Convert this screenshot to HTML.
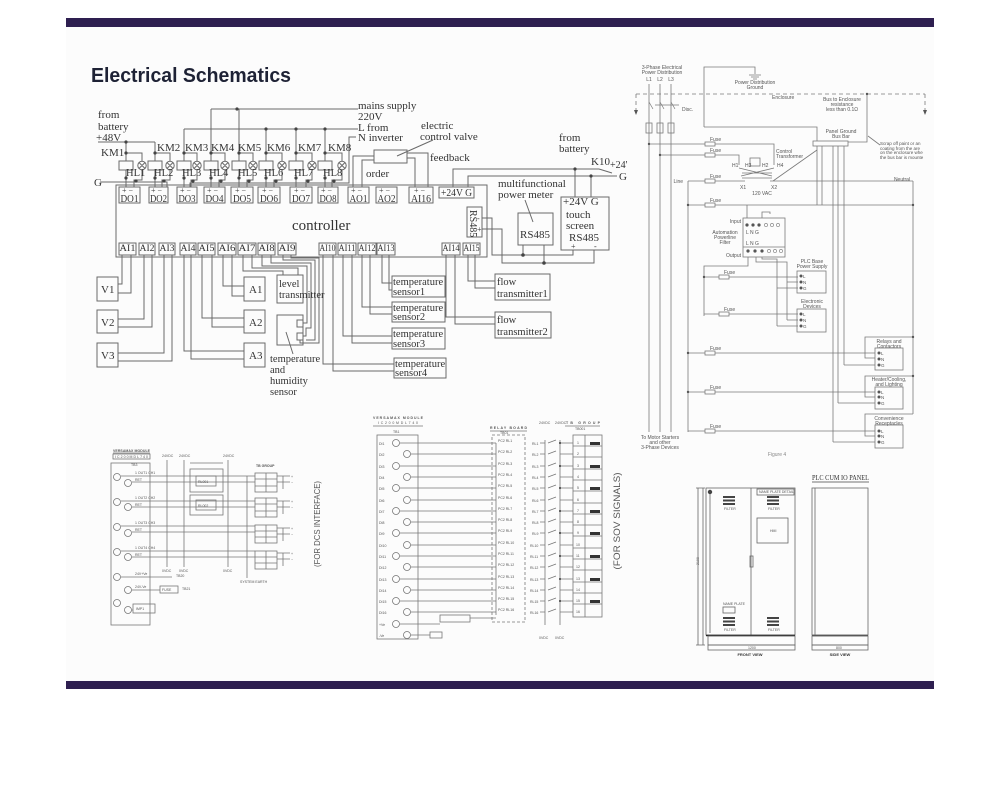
<!DOCTYPE html>
<html><head><meta charset="utf-8">
<style>
html,body{margin:0;padding:0;background:#fff;}
svg{display:block}
.s{font-family:"Liberation Serif",serif;fill:#333;}
.a{font-family:"Liberation Sans",sans-serif;fill:#555;}
</style></head><body>
<svg width="1000" height="796" viewBox="0 0 1000 796" xmlns="http://www.w3.org/2000/svg">
<rect x="66" y="27" width="868" height="654" fill="#fcfcfc"/>
<rect x="66" y="18" width="868" height="9" fill="#2e1f50"/>
<rect x="66" y="681" width="868" height="8" fill="#2e1f50"/>
<text x="91" y="82" font-family="Liberation Sans, sans-serif" font-weight="bold" font-size="20" fill="#1e2235" textLength="200" lengthAdjust="spacingAndGlyphs">Electrical Schematics</text>

<!-- ================= TOP LEFT SCHEMATIC ================= -->
<g fill="none" stroke="#6a6a6a" stroke-width="1">
<path d="M211 109H358M211 109V161M239 109V161"/>
<path d="M184 129H358M184 129V161M266 129V161M296 129V161M325 129V161"/>
<path d="M356 137H349V183H190V187"/>
<path d="M98 142H155M126 142V161M155 142V161"/>
<path d="M100 182H167V187"/>
<path d="M126 153H142V161M155 153H170V161M184 153H197V161M211 153H225V161M239 153H253V161M266 153H282V161M296 153H312V161M325 153H342V161"/>
<rect x="119" y="161" width="14" height="9"/><rect x="148" y="161" width="14" height="9"/><rect x="177" y="161" width="14" height="9"/><rect x="204" y="161" width="14" height="9"/><rect x="232" y="161" width="14" height="9"/><rect x="259" y="161" width="14" height="9"/><rect x="289" y="161" width="14" height="9"/><rect x="318" y="161" width="14" height="9"/>
<g>
<circle cx="142" cy="165.5" r="4.2"/><circle cx="170" cy="165.5" r="4.2"/><circle cx="197" cy="165.5" r="4.2"/><circle cx="225" cy="165.5" r="4.2"/><circle cx="253" cy="165.5" r="4.2"/><circle cx="282" cy="165.5" r="4.2"/><circle cx="312" cy="165.5" r="4.2"/><circle cx="342" cy="165.5" r="4.2"/>
<path d="M139 162.5l6 6M145 162.5l-6 6M167 162.5l6 6M173 162.5l-6 6M194 162.5l6 6M200 162.5l-6 6M222 162.5l6 6M228 162.5l-6 6M250 162.5l6 6M256 162.5l-6 6M279 162.5l6 6M285 162.5l-6 6M309 162.5l6 6M315 162.5l-6 6M339 162.5l6 6M345 162.5l-6 6"/>
</g>
<path d="M126 170V187M155 170V187M184 170V187M211 170V187M239 170V187M266 170V187M296 170V187M325 170V187"/>
<path d="M142 170V180H134V187M170 170V180H162V187M197 170V180H191V187M225 170V180H219V187M253 170V180H247V187M282 170V180H274V187M312 170V180H306V187M342 170V180H332V187"/>
<rect x="116" y="185" width="371" height="72"/>
<rect x="119" y="187" width="21" height="16"/><rect x="149" y="187" width="19" height="16"/><rect x="177" y="187" width="20" height="16"/><rect x="204" y="187" width="21" height="16"/><rect x="231" y="187" width="22" height="16"/><rect x="258" y="187" width="22" height="16"/><rect x="290" y="187" width="22" height="16"/><rect x="318" y="187" width="20" height="16"/><rect x="348" y="187" width="21" height="16"/><rect x="376" y="187" width="21" height="16"/><rect x="409" y="187" width="24" height="16"/>
<rect x="439" y="187" width="35" height="11"/>
<rect x="374" y="150" width="33" height="13"/>
<path d="M353 187V156H374M362 187V160H374M407 153H428V187M407 158H415V187M397 156L433 140"/>
<path d="M453 187V169H599M468 187V176H600M599 169L612 173M600 176H617M575 169V197M591 176V197"/>
<rect x="467" y="207" width="15" height="30"/>
<rect x="518" y="213" width="35" height="32"/>
<rect x="561" y="197" width="48" height="53"/>
<path d="M482 218H492V255H573V250M482 229H502V263H594V250M523 245V255M544 245V263M525 200L533 222"/>
<rect x="119" y="243" width="17" height="12"/><rect x="139" y="243" width="16" height="12"/><rect x="159" y="243" width="16" height="12"/><rect x="180" y="243" width="16" height="12"/><rect x="198" y="243" width="17" height="12"/><rect x="218" y="243" width="18" height="12"/><rect x="238" y="243" width="18" height="12"/><rect x="258" y="243" width="17" height="12"/><rect x="278" y="243" width="18" height="12"/><rect x="319" y="243" width="17" height="12"/><rect x="338" y="243" width="18" height="12"/><rect x="358" y="243" width="18" height="12"/><rect x="377" y="243" width="18" height="12"/><rect x="442" y="243" width="18" height="12"/><rect x="463" y="243" width="17" height="12"/>
<rect x="97" y="277" width="21" height="24"/><rect x="97" y="310" width="21" height="23"/><rect x="97" y="343" width="21" height="24"/>
<rect x="244" y="277" width="21" height="24"/><rect x="244" y="310" width="21" height="23"/><rect x="244" y="343" width="21" height="24"/>
<rect x="277" y="275" width="26" height="28"/><rect x="277" y="315" width="26" height="30"/>
<rect x="297" y="320" width="6" height="7"/><rect x="297" y="333" width="6" height="7"/>
<rect x="392" y="276" width="53" height="21"/><rect x="392" y="302" width="53" height="20"/><rect x="392" y="328" width="53" height="21"/><rect x="394" y="358" width="52" height="20"/>
<rect x="495" y="274" width="55" height="26"/><rect x="495" y="312" width="56" height="26"/>
<path d="M122 255V284H118M131 255V293H118M144 255V319H118M152 255V327H118M164 255V353H118M172 255V361H118"/>
<path d="M184 255V351H244M191 255V359H244M202 255V318H244M212 255V327H244M223 255V286H244M232 255V296H244"/>
<path d="M243 255V271H283V275M252 255V268H298V275M262 255V266H307V323H303M271 255V263H311V328H306V336H303M283 255V260H315V340H306M291 255V258H319V343H300V340M286 332L293 354"/>
<path d="M323 255V364H394M333 255V371H394M343 255V336H392M352 255V343H392M362 255V307H392M370 255V314H392M382 255V283H392M389 255V290H392"/>
<path d="M446 255V317H495M455 255V324H495M468 255V281H495M475 255V288H495"/>
</g>
<g fill="#444">
<circle cx="237" cy="109" r="1.6"/><circle cx="266" cy="129" r="1.6"/><circle cx="296" cy="129" r="1.6"/><circle cx="325" cy="129" r="1.6"/><circle cx="126" cy="142" r="1.6"/>
<circle cx="126" cy="153" r="1.6"/><circle cx="155" cy="153" r="1.6"/><circle cx="184" cy="153" r="1.6"/><circle cx="211" cy="153" r="1.6"/><circle cx="239" cy="153" r="1.6"/><circle cx="266" cy="153" r="1.6"/><circle cx="296" cy="153" r="1.6"/><circle cx="325" cy="153" r="1.6"/>
<circle cx="126" cy="178" r="1.6"/><circle cx="155" cy="178" r="1.6"/><circle cx="184" cy="178" r="1.6"/><circle cx="211" cy="178" r="1.6"/><circle cx="239" cy="178" r="1.6"/><circle cx="266" cy="178" r="1.6"/><circle cx="296" cy="178" r="1.6"/><circle cx="325" cy="178" r="1.6"/>
<circle cx="136" cy="181" r="1.6"/><circle cx="164" cy="181" r="1.6"/><circle cx="193" cy="181" r="1.6"/><circle cx="221" cy="181" r="1.6"/><circle cx="249" cy="181" r="1.6"/><circle cx="276" cy="181" r="1.6"/><circle cx="308" cy="181" r="1.6"/><circle cx="334" cy="181" r="1.6"/>
<circle cx="575" cy="169" r="1.6"/><circle cx="591" cy="176" r="1.6"/><circle cx="523" cy="255" r="1.8"/><circle cx="544" cy="263" r="1.8"/>
</g>
<g class="s" font-size="11">
<text x="98" y="118">from</text><text x="98" y="130">battery</text><text x="96" y="141">+48V</text>
<text x="101" y="156">KM1</text><text x="157" y="151">KM2</text><text x="185" y="151">KM3</text><text x="211" y="151">KM4</text><text x="238" y="151">KM5</text><text x="267" y="151">KM6</text><text x="298" y="151">KM7</text><text x="328" y="151">KM8</text>
<text x="94" y="186">G</text>
<text x="358" y="109">mains supply</text><text x="358" y="120">220V</text><text x="358" y="131">L  from</text><text x="358" y="141">N inverter</text>
<text x="421" y="129">electric</text><text x="420" y="140">control valve</text>
<text x="430" y="161">feedback</text><text x="366" y="177">order</text>
<text x="559" y="141">from</text><text x="559" y="152">battery</text>
<text x="591" y="165">K10</text><text x="610" y="168" font-size="10">+24'</text><text x="619" y="180">G</text>
<text x="498" y="187">multifunctional</text><text x="498" y="198">power meter</text>
<text x="563" y="205">+24V G</text><text x="566" y="218">touch</text><text x="566" y="229">screen</text><text x="569" y="241">RS485</text>
<text x="520" y="238">RS485</text>
<text x="441" y="196" textLength="31" lengthAdjust="spacingAndGlyphs">+24V G</text>
<text x="292" y="230" font-size="15">controller</text>
<text x="101" y="293">V1</text><text x="101" y="326">V2</text><text x="101" y="359">V3</text>
<text x="249" y="293">A1</text><text x="249" y="326">A2</text><text x="249" y="359">A3</text>
<text x="279" y="287" font-size="10.5">level</text><text x="279" y="298" font-size="10.5">transmitter</text>
<text x="270" y="362" font-size="10.5">temperature</text><text x="270" y="373" font-size="10.5">and</text><text x="270" y="384" font-size="10.5">humidity</text><text x="270" y="395" font-size="10.5">sensor</text>
<text x="393" y="285" font-size="10.5">temperature</text><text x="393" y="295" font-size="10.5">sensor1</text>
<text x="393" y="311" font-size="10.5">temperature</text><text x="393" y="320" font-size="10.5">sensor2</text>
<text x="393" y="337" font-size="10.5">temperature</text><text x="393" y="347" font-size="10.5">sensor3</text>
<text x="395" y="367" font-size="10.5">temperature</text><text x="395" y="376" font-size="10.5">sensor4</text>
<text x="497" y="285" font-size="10.5">flow</text><text x="497" y="297" font-size="10.5">transmitter1</text>
<text x="497" y="323" font-size="10.5">flow</text><text x="497" y="335" font-size="10.5">transmitter2</text>
<text x="126" y="176" font-size="10.5">HL1</text><text x="154" y="176" font-size="10.5">HL2</text><text x="182" y="176" font-size="10.5">HL3</text><text x="209" y="176" font-size="10.5">HL4</text><text x="238" y="176" font-size="10.5">HL5</text><text x="264" y="176" font-size="10.5">HL6</text><text x="294" y="176" font-size="10.5">HL7</text><text x="323" y="176" font-size="10.5">HL8</text>
<g font-size="10.5">
<text x="120.5" y="202" textLength="18" lengthAdjust="spacingAndGlyphs">DO1</text><text x="150" y="202" textLength="17" lengthAdjust="spacingAndGlyphs">DO2</text><text x="178.5" y="202" textLength="17" lengthAdjust="spacingAndGlyphs">DO3</text><text x="205.5" y="202" textLength="18" lengthAdjust="spacingAndGlyphs">DO4</text><text x="233" y="202" textLength="18" lengthAdjust="spacingAndGlyphs">DO5</text><text x="260" y="202" textLength="18" lengthAdjust="spacingAndGlyphs">DO6</text><text x="292" y="202" textLength="18" lengthAdjust="spacingAndGlyphs">DO7</text><text x="319.5" y="202" textLength="17" lengthAdjust="spacingAndGlyphs">DO8</text><text x="349.5" y="202" textLength="18" lengthAdjust="spacingAndGlyphs">AO1</text><text x="377.5" y="202" textLength="18" lengthAdjust="spacingAndGlyphs">AO2</text><text x="411" y="202" textLength="20" lengthAdjust="spacingAndGlyphs">AI16</text>
</g>
<g font-size="8"><text x="122" y="193">+ −</text><text x="151" y="193">+ −</text><text x="180" y="193">+ −</text><text x="207" y="193">+ −</text><text x="235" y="193">+ −</text><text x="262" y="193">+ −</text><text x="294" y="193">+ −</text><text x="321" y="193">+ −</text><text x="351" y="193">+ −</text><text x="379" y="193">+ −</text><text x="414" y="193">+ −</text>
<text x="477" y="221">-</text><text x="477" y="232">+</text><text x="571" y="249">+</text><text x="594" y="249">-</text></g>
<g font-size="9.5"><text x="119.5" y="251" textLength="16" lengthAdjust="spacingAndGlyphs">AI1</text><text x="139.5" y="251" textLength="15" lengthAdjust="spacingAndGlyphs">AI2</text><text x="159.5" y="251" textLength="15" lengthAdjust="spacingAndGlyphs">AI3</text><text x="180.5" y="251" textLength="15" lengthAdjust="spacingAndGlyphs">AI4</text><text x="198.5" y="251" textLength="16" lengthAdjust="spacingAndGlyphs">AI5</text><text x="218.5" y="251" textLength="17" lengthAdjust="spacingAndGlyphs">AI6</text><text x="238.5" y="251" textLength="17" lengthAdjust="spacingAndGlyphs">AI7</text><text x="258.5" y="251" textLength="16" lengthAdjust="spacingAndGlyphs">AI8</text><text x="278.5" y="251" textLength="17" lengthAdjust="spacingAndGlyphs">AI9</text><text x="319.5" y="251" textLength="16" lengthAdjust="spacingAndGlyphs">AI10</text><text x="338.5" y="251" textLength="17" lengthAdjust="spacingAndGlyphs">AI11</text><text x="358.5" y="251" textLength="17" lengthAdjust="spacingAndGlyphs">AI12</text><text x="377.5" y="251" textLength="17" lengthAdjust="spacingAndGlyphs">AI13</text><text x="442.5" y="251" textLength="17" lengthAdjust="spacingAndGlyphs">AI14</text><text x="463.5" y="251" textLength="16" lengthAdjust="spacingAndGlyphs">AI15</text></g>
<text x="470" y="210" font-size="10" transform="rotate(90 470 210)">RS485</text>
</g>

<!-- ================= TOP RIGHT DIAGRAM ================= -->
<g fill="none" stroke="#7a7a7a" stroke-width="0.8">
<path d="M649 84V432M660 84V432M671 84V432"/>
<path d="M636 94H925M636 94V110M925 94V110" stroke-dasharray="4 3"/>
<path d="M649 102L653 109M660 102L664 109M671 102L675 109M655 105H679" stroke-width="0.7"/>
<rect x="646" y="123" width="6" height="10"/><rect x="657" y="123" width="6" height="10"/><rect x="668" y="123" width="6" height="10"/>
<path d="M704 127V67H755V74M749 75H761M751 77H759M753 79H757"/>
<path d="M704 127H817V141M867 94V142H848"/>
<rect x="813" y="141" width="35" height="5"/>
<path d="M880 145L868 136"/>
<path d="M649 144H705M715 144H774V165M660 155H705M715 155H739V165"/>
<rect x="705" y="142" width="10" height="4"/><rect x="705" y="153" width="10" height="4"/>
<rect x="750" y="158" width="10" height="8"/>
<path d="M739 168L772 176M774 168L741 176M742 173H772M742 178H772" />
<path d="M688 181H705M715 181H745M770 181H913M773 181L817 150M817 146V205M822 146V205M833 146V442M838 146V403M844 146V365"/>
<rect x="705" y="179" width="10" height="4"/>
<path d="M688 181V432M913 181V414"/>
<path d="M688 205H705M715 205H913M747 205V218"/>
<rect x="705" y="203" width="10" height="4"/>
<rect x="743" y="218" width="42" height="39"/>
<path d="M743 247H785M762 218V212H770V214M748 257V266H704V316M756 257V262H787V320M762 257V259H777V326"/>
<path d="M704 277H719M729 277H798M704 314H719M729 314H798M787 282H798M787 320H798M777 288H798M777 326H798"/>
<rect x="719" y="275" width="10" height="4"/><rect x="719" y="312" width="10" height="4"/>
<rect x="797" y="271" width="29" height="22"/><rect x="797" y="309" width="29" height="23"/>
<rect x="875" y="348" width="28" height="22"/><rect x="875" y="387" width="28" height="22"/><rect x="875" y="425" width="28" height="23"/>
<path d="M688 353H705M715 353H875M688 392H705M715 392H875M688 431H705M715 431H875"/>
<rect x="705" y="351" width="10" height="4"/><rect x="705" y="390" width="10" height="4"/><rect x="705" y="429" width="10" height="4"/>
<path d="M913 337H865V358H875M913 376H865V397H875M913 414H865V436H875M844 365H875M838 403H875M833 442H875"/>
</g>
<g fill="#555">
<circle cx="649" cy="144" r="1.2"/><circle cx="660" cy="155" r="1.2"/><circle cx="688" cy="205" r="1.2"/><circle cx="913" cy="205" r="1.2"/><circle cx="704" cy="277" r="1.2"/><circle cx="688" cy="353" r="1.2"/><circle cx="688" cy="392" r="1.2"/><circle cx="913" cy="337" r="1.2"/><circle cx="913" cy="376" r="1.2"/><circle cx="867" cy="94" r="1.2"/>
<circle cx="747" cy="225" r="1.6"/><circle cx="753" cy="225" r="1.6"/><circle cx="759" cy="225" r="1.6"/><circle cx="748" cy="251" r="1.6"/><circle cx="755" cy="251" r="1.6"/><circle cx="762" cy="251" r="1.6"/>
<circle cx="801" cy="276" r="1.5"/><circle cx="801" cy="282" r="1.5"/><circle cx="801" cy="288" r="1.5"/><circle cx="801" cy="314" r="1.5"/><circle cx="801" cy="320" r="1.5"/><circle cx="801" cy="326" r="1.5"/>
<circle cx="879" cy="353" r="1.5"/><circle cx="879" cy="359" r="1.5"/><circle cx="879" cy="365" r="1.5"/><circle cx="879" cy="392" r="1.5"/><circle cx="879" cy="397" r="1.5"/><circle cx="879" cy="403" r="1.5"/><circle cx="879" cy="431" r="1.5"/><circle cx="879" cy="436" r="1.5"/><circle cx="879" cy="442" r="1.5"/>
<path d="M634 110h4l-2 5zM923 110h4l-2 5z"/>
</g>
<g fill="none" stroke="#777" stroke-width="0.6"><circle cx="766" cy="225" r="1.6"/><circle cx="772" cy="225" r="1.6"/><circle cx="778" cy="225" r="1.6"/><circle cx="769" cy="251" r="1.6"/><circle cx="775" cy="251" r="1.6"/><circle cx="781" cy="251" r="1.6"/></g>
<g class="a" font-size="5">
<text x="662" y="69" text-anchor="middle">3-Phase Electrical</text><text x="662" y="74" text-anchor="middle">Power Distribution</text>
<text x="649" y="81" text-anchor="middle">L1</text><text x="660" y="81" text-anchor="middle">L2</text><text x="671" y="81" text-anchor="middle">L3</text>
<text x="682" y="111">Disc.</text>
<text x="755" y="84" text-anchor="middle">Power Distribution</text><text x="755" y="89" text-anchor="middle">Ground</text>
<text x="772" y="99">Enclosure</text>
<text x="842" y="101" text-anchor="middle">Bus to Enclosure</text><text x="842" y="106" text-anchor="middle">resistance</text><text x="842" y="111" text-anchor="middle">less than 0.1Ω</text>
<text x="841" y="133" text-anchor="middle">Panel Ground</text><text x="841" y="138" text-anchor="middle">Bus Bar</text>
<text x="880" y="145" font-size="4.5">Scrap off paint or an</text><text x="880" y="150" font-size="4.5">coating from the are</text><text x="880" y="154" font-size="4.5">on the enclosure whe</text><text x="880" y="159" font-size="4.5">the bus bar is mounte</text>
<text x="710" y="141">Fuse</text><text x="710" y="152">Fuse</text><text x="710" y="178">Fuse</text><text x="710" y="202">Fuse</text><text x="724" y="274">Fuse</text><text x="724" y="311">Fuse</text><text x="710" y="350">Fuse</text><text x="710" y="389">Fuse</text><text x="710" y="428">Fuse</text>
<text x="776" y="153">Control</text><text x="776" y="158">Transformer</text>
<text x="732" y="167">H1</text><text x="745" y="167">H3</text><text x="762" y="167">H2</text><text x="777" y="167">H4</text>
<text x="683" y="183" text-anchor="end">Line</text><text x="740" y="189">X1</text><text x="771" y="189">X2</text><text x="762" y="195" text-anchor="middle">120 VAC</text>
<text x="902" y="181" text-anchor="middle">Neutral</text>
<text x="741" y="223" text-anchor="end">Input</text><text x="725" y="234" text-anchor="middle">Automation</text><text x="725" y="239" text-anchor="middle">Powerline</text><text x="725" y="244" text-anchor="middle">Filter</text><text x="741" y="257" text-anchor="end">Output</text>
<text x="746" y="234">L N G</text><text x="746" y="245">L N G</text>
<text x="812" y="263" text-anchor="middle">PLC Base</text><text x="812" y="268" text-anchor="middle">Power Supply</text>
<text x="812" y="303" text-anchor="middle">Electronic</text><text x="812" y="308" text-anchor="middle">Devices</text>
<text x="889" y="343" text-anchor="middle">Relays and</text><text x="889" y="348" text-anchor="middle">Contactors</text>
<text x="889" y="381" text-anchor="middle">Heater/Cooling,</text><text x="889" y="386" text-anchor="middle">and Lighting</text>
<text x="889" y="420" text-anchor="middle">Convenience</text><text x="889" y="425" text-anchor="middle">Receptacles</text>
<text x="803" y="278" font-size="4.5">L</text><text x="803" y="284" font-size="4.5">N</text><text x="803" y="290" font-size="4.5">G</text>
<text x="803" y="316" font-size="4.5">L</text><text x="803" y="322" font-size="4.5">N</text><text x="803" y="328" font-size="4.5">G</text>
<text x="881" y="355" font-size="4.5">L</text><text x="881" y="361" font-size="4.5">N</text><text x="881" y="367" font-size="4.5">G</text>
<text x="881" y="394" font-size="4.5">L</text><text x="881" y="399" font-size="4.5">N</text><text x="881" y="405" font-size="4.5">G</text>
<text x="881" y="433" font-size="4.5">L</text><text x="881" y="438" font-size="4.5">N</text><text x="881" y="444" font-size="4.5">G</text>
<text x="660" y="439" text-anchor="middle">To Motor Starters</text><text x="660" y="444" text-anchor="middle">and other</text><text x="660" y="449" text-anchor="middle">3-Phase Devices</text>
<text x="777" y="456" text-anchor="middle" fill="#888">Figure 4</text>
</g>

<!-- ================= BOTTOM LEFT (DCS) ================= -->
<g fill="none" stroke="#777" stroke-width="0.8">
<path d="M113 453H150"/>
<rect x="113" y="454" width="37" height="5"/>
<rect x="111" y="463" width="39" height="162"/>
<circle cx="117" cy="477" r="3.5"/><circle cx="128" cy="483" r="3.5"/><circle cx="117" cy="502" r="3.5"/><circle cx="128" cy="507" r="3.5"/><circle cx="117" cy="527" r="3.5"/><circle cx="128" cy="533" r="3.5"/><circle cx="117" cy="552" r="3.5"/><circle cx="128" cy="557" r="3.5"/><circle cx="117" cy="577" r="3.5"/><circle cx="128" cy="590" r="3.5"/><circle cx="117" cy="603" r="3.5"/><circle cx="128" cy="610" r="3.5"/>
<path d="M121 476H255M132 482H255M121 501H255M132 507H255M121 526H255M132 532H255M121 551H255M132 557H255"/>
<path d="M121 577H172M132 590H160M132 610H133"/>
<rect x="160" y="586" width="18" height="7"/><rect x="133" y="604" width="22" height="9"/>
<path d="M167 460V567M184 460V567M228 460V567M190 463H223M247 476V578"/>
<rect x="190" y="469" width="33" height="23"/><rect x="190" y="495" width="33" height="20"/>
<rect x="196" y="476" width="20" height="10"/><rect x="196" y="500" width="20" height="10"/>
<rect x="255" y="473" width="22" height="19"/><rect x="255" y="498" width="22" height="19"/><rect x="255" y="525" width="22" height="18"/><rect x="255" y="551" width="22" height="18"/>
<path d="M255 479H277M255 486H277M255 504H277M255 511H277M255 531H277M255 537H277M255 557H277M255 563H277M266 473V492M266 498V517M266 525V543M266 551V569"/>
<path d="M277 476H290M277 482H290M277 501H290M277 507H290M277 528H290M277 534H290M277 553H290M277 559H290M283 476V489M283 501V514M283 528V541M283 553V566"/>
</g>
<g class="a" font-size="3.5" fill="#444">
<text x="113" y="452" font-weight="bold" textLength="37">VERSAMAX MODULE</text>
<text x="115" y="458" textLength="33">IC200MDL740</text>
<text x="131" y="466">TB3</text>
<text x="135" y="474">1 OUT1 CH1</text><text x="135" y="481">RET</text><text x="135" y="499">1 OUT2 CH2</text><text x="135" y="506">RET</text><text x="135" y="524">1 OUT3 CH3</text><text x="135" y="531">RET</text><text x="135" y="549">1 OUT4 CH4</text><text x="135" y="556">RET</text>
<text x="135" y="575">24V+Ve</text><text x="135" y="588">24V-Ve</text><text x="136" y="610">IMP1</text><text x="162" y="591">FUSE</text><text x="176" y="577">TB20</text><text x="182" y="590">TB21</text>
<text x="162" y="457">24VDC</text><text x="179" y="457">24VDC</text><text x="223" y="457">24VDC</text>
<text x="162" y="572">0VDC</text><text x="179" y="572">0VDC</text><text x="223" y="572">0VDC</text>
<text x="198" y="483">RL001</text><text x="198" y="507">RL002</text>
<text x="256" y="467" font-weight="bold">TB GROUP</text><text x="240" y="583">SYSTEM EARTH</text>
<text x="291" y="478">+</text><text x="291" y="484">−</text><text x="291" y="503">+</text><text x="291" y="509">−</text><text x="291" y="530">+</text><text x="291" y="536">−</text><text x="291" y="555">+</text><text x="291" y="561">−</text>
</g>
<text x="320" y="524" text-anchor="middle" font-family="Liberation Sans, sans-serif" font-size="8.5" fill="#555" transform="rotate(-90 320 524)" textLength="86" lengthAdjust="spacingAndGlyphs">(FOR DCS INTERFACE)</text>

<!-- ================= BOTTOM MIDDLE (SOV) ================= -->
<g fill="none" stroke="#777" stroke-width="0.8">
<path d="M373 426H423M490 431H527M565 426H600"/>
<rect x="377" y="435" width="41" height="204"/>
<circle cx="396" cy="443" r="3.5"/><circle cx="407" cy="454" r="3.5"/><circle cx="396" cy="466" r="3.5"/><circle cx="407" cy="477" r="3.5"/><circle cx="396" cy="488" r="3.5"/><circle cx="407" cy="500" r="3.5"/><circle cx="396" cy="511" r="3.5"/><circle cx="407" cy="522" r="3.5"/><circle cx="396" cy="533" r="3.5"/><circle cx="407" cy="545" r="3.5"/><circle cx="396" cy="556" r="3.5"/><circle cx="407" cy="567" r="3.5"/><circle cx="396" cy="579" r="3.5"/><circle cx="407" cy="590" r="3.5"/><circle cx="396" cy="601" r="3.5"/><circle cx="407" cy="612" r="3.5"/><circle cx="396" cy="624" r="3.5"/><circle cx="407" cy="635" r="3.5"/>
<path d="M400 443H496M411 454H496M400 466H496M411 477H496M400 488H496M411 500H496M400 511H496M411 522H496M400 533H496M411 545H496M400 556H496M411 567H496M400 579H496M411 590H496M400 601H496M411 612H496M400 624H440M411 635H430"/>
<rect x="430" y="632" width="12" height="6"/><rect x="440" y="615" width="30" height="7"/>
<rect x="492" y="435" width="33" height="187" stroke-dasharray="3 2"/>
<path d="M496 443V615M470 618H496"/>
<path d="M545 440V625M560 440V625"/>
<path d="M540 443H545M548 443L556 440M560 443H573M540 454H545M548 454L556 451M560 454H573M540 466H545M548 466L556 463M560 466H573M540 477H545M548 477L556 474M560 477H573M540 488H545M548 488L556 485M560 488H573M540 500H545M548 500L556 497M560 500H573M540 511H545M548 511L556 508M560 511H573M540 522H545M548 522L556 519M560 522H573M540 533H545M548 533L556 530M560 533H573M540 545H545M548 545L556 542M560 545H573M540 556H545M548 556L556 553M560 556H573M540 567H545M548 567L556 564M560 567H573M540 579H545M548 579L556 576M560 579H573M540 590H545M548 590L556 587M560 590H573M540 601H545M548 601L556 598M560 601H573M540 612H545M548 612L556 609M560 612H573"/>
<rect x="573" y="435" width="29" height="182"/>
<path d="M585 435V617M573 446H602M573 457H602M573 469H602M573 480H602M573 491H602M573 503H602M573 514H602M573 525H602M573 536H602M573 548H602M573 559H602M573 570H602M573 582H602M573 593H602M573 604H602"/>
</g>
<g fill="#333">
<rect x="590" y="442" width="10" height="3"/><rect x="590" y="465" width="10" height="3"/><rect x="590" y="487" width="10" height="3"/><rect x="590" y="510" width="10" height="3"/><rect x="590" y="532" width="10" height="3"/><rect x="590" y="555" width="10" height="3"/><rect x="590" y="578" width="10" height="3"/><rect x="590" y="600" width="10" height="3"/>
<circle cx="560" cy="443" r="1"/><circle cx="560" cy="466" r="1"/><circle cx="560" cy="488" r="1"/><circle cx="560" cy="511" r="1"/><circle cx="560" cy="533" r="1"/><circle cx="560" cy="556" r="1"/><circle cx="560" cy="579" r="1"/><circle cx="560" cy="601" r="1"/>
</g>
<g class="a" font-size="3.5" fill="#444">
<text x="373" y="419" font-weight="bold" textLength="50">VERSAMAX MODULE</text><text x="378" y="424" textLength="40">IC200MDL740</text><text x="393" y="433">TB1</text>
<text x="490" y="429" font-weight="bold" textLength="37">RELAY BOARD</text><text x="500" y="434">TB01</text>
<text x="566" y="424" font-weight="bold" textLength="34">TB GROUP</text><text x="575" y="430">TB001</text>
<text x="539" y="424">24VDC</text><text x="555" y="424">24VDC</text><text x="539" y="639">0VDC</text><text x="555" y="639">0VDC</text>
<text x="379" y="445">DI1</text><text x="379" y="456">DI2</text><text x="379" y="468">DI3</text><text x="379" y="479">DI4</text><text x="379" y="490">DI5</text><text x="379" y="502">DI6</text><text x="379" y="513">DI7</text><text x="379" y="524">DI8</text><text x="379" y="535">DI9</text><text x="379" y="547">DI10</text><text x="379" y="558">DI11</text><text x="379" y="569">DI12</text><text x="379" y="581">DI13</text><text x="379" y="592">DI14</text><text x="379" y="603">DI15</text><text x="379" y="614">DI16</text><text x="379" y="626">+Ve</text><text x="379" y="637">-Ve</text>
<text x="498" y="442">PC2 RL1</text><text x="498" y="453">PC2 RL2</text><text x="498" y="465">PC2 RL3</text><text x="498" y="476">PC2 RL4</text><text x="498" y="487">PC2 RL5</text><text x="498" y="499">PC2 RL6</text><text x="498" y="510">PC2 RL7</text><text x="498" y="521">PC2 RL8</text><text x="498" y="532">PC2 RL9</text><text x="498" y="544">PC2 RL10</text><text x="498" y="555">PC2 RL11</text><text x="498" y="566">PC2 RL12</text><text x="498" y="578">PC2 RL13</text><text x="498" y="589">PC2 RL14</text><text x="498" y="600">PC2 RL15</text><text x="498" y="611">PC2 RL16</text>
<text x="532" y="445">RL1</text><text x="532" y="456">RL2</text><text x="532" y="468">RL3</text><text x="532" y="479">RL4</text><text x="532" y="490">RL5</text><text x="532" y="502">RL6</text><text x="532" y="513">RL7</text><text x="532" y="524">RL8</text><text x="532" y="535">RL9</text><text x="530" y="547">RL10</text><text x="530" y="558">RL11</text><text x="530" y="569">RL12</text><text x="530" y="581">RL13</text><text x="530" y="592">RL14</text><text x="530" y="603">RL15</text><text x="530" y="614">RL16</text>
<text x="577" y="444">1</text><text x="577" y="455">2</text><text x="577" y="467">3</text><text x="577" y="478">4</text><text x="577" y="489">5</text><text x="577" y="501">6</text><text x="577" y="512">7</text><text x="577" y="523">8</text><text x="577" y="534">9</text><text x="576" y="546">10</text><text x="576" y="557">11</text><text x="576" y="568">12</text><text x="576" y="580">13</text><text x="576" y="591">14</text><text x="576" y="602">15</text><text x="576" y="613">16</text>
</g>
<text x="620" y="521" text-anchor="middle" font-family="Liberation Sans, sans-serif" font-size="9" fill="#555" transform="rotate(-90 620 521)" textLength="97" lengthAdjust="spacingAndGlyphs">(FOR SOV SIGNALS)</text>

<!-- ================= BOTTOM RIGHT (PANEL) ================= -->
<g fill="none" stroke="#666" stroke-width="0.8">
<path d="M812 482H869" stroke="#444"/>
<rect x="706" y="488" width="89" height="147"/>
<path d="M751 488V635M710 490V633"/>
<path d="M706 635.5H795M812 635.5H868" stroke="#222" stroke-width="1.6"/>
<rect x="708" y="636" width="87" height="9"/><rect x="708" y="645" width="87" height="5"/>
<path d="M698 488V645M703 488V645M696 488H705M696 645H705"/>
<rect x="812" y="488" width="56" height="147"/><path d="M815 488V635"/>
<rect x="812" y="636" width="56" height="9"/><rect x="812" y="645" width="56" height="5"/>
<rect x="757" y="518" width="31" height="25"/>
<rect x="757" y="489" width="37" height="6"/>
<rect x="723" y="607" width="12" height="6"/>
<rect x="750" y="556" width="3" height="11"/>
</g>
<g fill="#444">
<circle cx="710" cy="492" r="2.2"/>
<rect x="723" y="496" width="12" height="2"/><rect x="723" y="499.5" width="12" height="2"/><rect x="723" y="503" width="12" height="2"/>
<rect x="767" y="496" width="12" height="2"/><rect x="767" y="499.5" width="12" height="2"/><rect x="767" y="503" width="12" height="2"/>
<rect x="723" y="617" width="12" height="2"/><rect x="723" y="620.5" width="12" height="2"/><rect x="723" y="624" width="12" height="2"/>
<rect x="767" y="617" width="12" height="2"/><rect x="767" y="620.5" width="12" height="2"/><rect x="767" y="624" width="12" height="2"/>
</g>
<g class="a" font-size="3.5" fill="#444">
<text x="759" y="493">NAME PLATE DETAIL</text><text x="770" y="532">HMI</text><text x="723" y="605">NAME PLATE</text>
<text x="724" y="510">FILTER</text><text x="768" y="510">FILTER</text><text x="724" y="631">FILTER</text><text x="768" y="631">FILTER</text>
<text x="748" y="649">1200</text><text x="836" y="649">800</text><text x="699" y="565" transform="rotate(-90 699 565)">2100</text>
</g>
<text x="812" y="480" font-family="Liberation Serif, serif" font-size="7" fill="#333" textLength="57" lengthAdjust="spacingAndGlyphs">PLC CUM IO PANEL</text>
<text x="750" y="656" text-anchor="middle" font-family="Liberation Sans, sans-serif" font-size="4" font-weight="bold" fill="#333">FRONT VIEW</text>
<text x="840" y="656" text-anchor="middle" font-family="Liberation Sans, sans-serif" font-size="4" font-weight="bold" fill="#333">SIDE VIEW</text>
</svg>
</body></html>
